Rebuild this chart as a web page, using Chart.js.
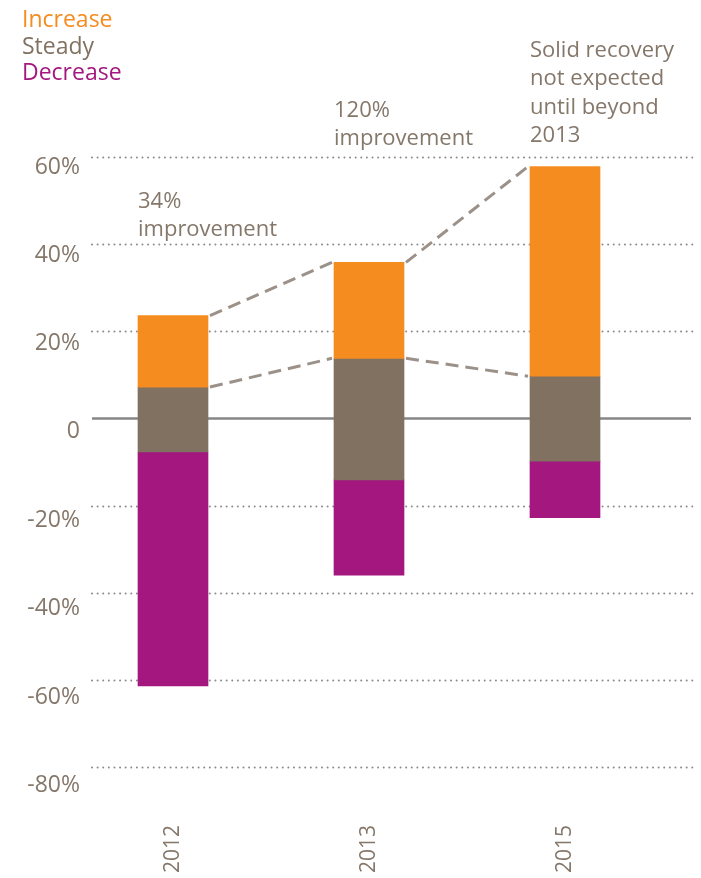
<!DOCTYPE html>
<html>
<head>
<meta charset="utf-8">
<script src="https://cdn.jsdelivr.net/npm/chart.js@4.4.1/dist/chart.umd.min.js"></script>
<style>
  html, body { margin: 0; padding: 0; background: #fff; }
  #wrap { width: 701px; height: 878px; position: relative; }
</style>
</head>
<body>
<div id="wrap"><canvas id="myChart"></canvas></div>
<script>
// outlook per year: floating bands between these bounds (in %)
const years = ["2012", "2013", "2015"];
const decreaseLow = [-61.4, -36.0, -22.8];
const steadyLow = [-7.7, -14.1, -9.8];
const steadyHigh = [7.2, 13.8, 9.7];
const increaseHigh = [23.6, 35.8, 57.8];
const yTicks = [60, 40, 20, 0, -20, -40, -60, -80];
const notes = [
  ["34%", "improvement"],
  ["120%", "improvement"],
  ["Solid recovery", "not expected", "until beyond", "2013"],
];

const FONT = "'Open Sans', sans-serif";
const TEXT = "#85776a";
const ORANGE = "#f58c20";
const BROWN = "#807161";
const PURPLE = "#a3177f";

// baseline of the last line of each note
const noteBaseline = [236, 145, 142];

const backdrop = {
  id: "backdrop",
  beforeDatasetsDraw(chart) {
    const ctx = chart.ctx;
    const y = chart.scales.y;
    ctx.save();
    yTicks.forEach((v) => {
      const py = Math.round(y.getPixelForValue(v)) + 0.5;
      ctx.beginPath();
      if (v === 0) {
        ctx.setLineDash([]);
        ctx.strokeStyle = "#868686";
        ctx.lineWidth = 2.5;
        ctx.lineCap = "butt";
        ctx.moveTo(92, py);
        ctx.lineTo(691, py);
      } else {
        ctx.setLineDash([0.01, 5.6]);
        ctx.strokeStyle = "#8a8a8a";
        ctx.lineWidth = 2;
        ctx.lineCap = "round";
        ctx.moveTo(92, py);
        ctx.lineTo(693, py);
      }
      ctx.stroke();

      // tick label, sitting a little under its line
      ctx.setLineDash([]);
      ctx.font = "23px " + FONT;
      ctx.fillStyle = TEXT;
      ctx.textAlign = "right";
      ctx.textBaseline = "middle";
      const label = v === 0 ? "0" : v + "%";
      ctx.fillText(label, 80, py + 9.5 + (60 - v) * 0.058);
    });
    ctx.restore();
  },
  afterDatasetsDraw(chart) {
    const ctx = chart.ctx;
    const y = chart.scales.y;
    const bars = chart.getDatasetMeta(0).data;
    ctx.save();
    // dashed connectors between the tops of the bands
    ctx.setLineDash([13, 7]);
    ctx.strokeStyle = "#9b9189";
    ctx.lineWidth = 3;
    [increaseHigh, steadyHigh].forEach((arr) => {
      for (let i = 0; i < bars.length - 1; i++) {
        const a = bars[i], b = bars[i + 1];
        ctx.beginPath();
        ctx.moveTo(a.x + a.width / 2 + 2, y.getPixelForValue(arr[i]));
        ctx.lineTo(b.x - b.width / 2 - 2, y.getPixelForValue(arr[i + 1]));
        ctx.stroke();
      }
    });
    ctx.setLineDash([]);

    // notes above the bars
    ctx.font = "22px " + FONT;
    ctx.fillStyle = TEXT;
    ctx.textAlign = "left";
    ctx.textBaseline = "alphabetic";
    notes.forEach((lines, i) => {
      const left = bars[i].x - bars[i].width / 2;
      lines.forEach((t, k) => {
        ctx.fillText(t, left, noteBaseline[i] - (lines.length - 1 - k) * 28.5);
      });
    });

    // series names top left
    ctx.font = "23px " + FONT;
    chart.data.datasets.forEach((ds, k) => {
      ctx.fillStyle = ds.backgroundColor;
      ctx.fillText(ds.label, 22, 27 + k * 26.5);
    });
    ctx.restore();
  },
};

const ctx = document.getElementById("myChart");
new Chart(ctx, {
  type: "bar",
  data: {
    labels: years,
    datasets: [
      {
        label: "Increase",
        data: years.map((_, i) => [steadyHigh[i], increaseHigh[i]]),
        backgroundColor: ORANGE,
      },
      {
        label: "Steady",
        data: years.map((_, i) => [steadyLow[i], steadyHigh[i]]),
        backgroundColor: BROWN,
      },
      {
        label: "Decrease",
        data: years.map((_, i) => [decreaseLow[i], steadyLow[i]]),
        backgroundColor: PURPLE,
      },
    ],
  },
  options: {
    responsive: true,
    maintainAspectRatio: false,
    animation: false,
    datasets: {
      bar: { grouped: false, barThickness: 70, borderWidth: 0 },
    },
    layout: { padding: { top: 157, right: 38, left: 0, bottom: 0 } },
    plugins: {
      legend: { display: false },
      tooltip: { enabled: false },
    },
    scales: {
      x: {
        grid: { display: false, drawTicks: false },
        border: { display: false },
        ticks: {
          minRotation: 90,
          maxRotation: 90,
          padding: 58,
          color: TEXT,
          font: { family: FONT, size: 21 },
        },
        afterFit: (s) => { s.height = 111; },
      },
      y: {
        min: -80,
        max: 60,
        afterBuildTicks: (s) => { s.ticks = yTicks.map((v) => ({ value: v })); },
        grid: { display: false, drawTicks: false },
        border: { display: false },
        ticks: { display: false },
        afterFit: (s) => { s.width = 75; },
      },
    },
  },
  plugins: [backdrop],
});
</script>
</body>
</html>
